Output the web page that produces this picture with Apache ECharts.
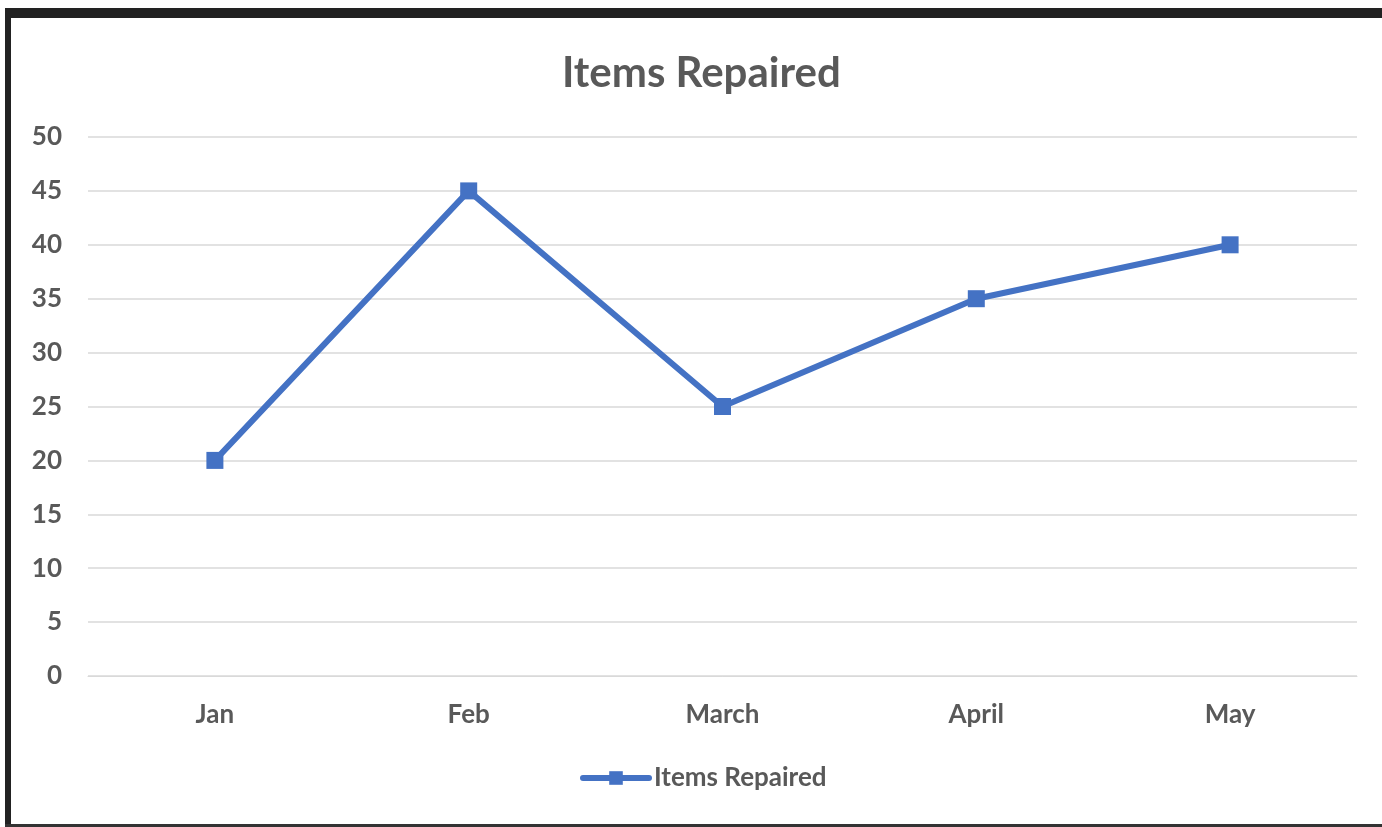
<!DOCTYPE html>
<html lang="en">
<head>
    <meta charset="UTF-8">
    <title>Items Repaired</title>
    <script src="https://cdn.jsdelivr.net/npm/echarts@6.0.0/dist/echarts.min.js"></script>
    <style>
        html, body { margin: 0; padding: 0; background: #fff; }
        #wrap { position: relative; width: 1382px; height: 827px; overflow: hidden; }
        #chart { position: absolute; left: 0; top: 0; width: 1382px; height: 827px; }
        .frame-top { position: absolute; left: 5px; top: 8px; width: 1377px; height: 10px; background: #222; }
        .frame-left { position: absolute; left: 5px; top: 8px; width: 6px; height: 819px; background: #222; }
        .frame-bottom { position: absolute; left: 5px; top: 824px; width: 1377px; height: 3px; background: #333; }
    </style>
</head>
<body>
    <div id="wrap">
        <div id="chart"></div>
        <div class="frame-top"></div>
        <div class="frame-left"></div>
        <div class="frame-bottom"></div>
    </div>

    <script>
        // data
        const months = ['Jan', 'Feb', 'March', 'April', 'May'];
        const itemsRepaired = [20, 45, 25, 35, 40];

        const chart = echarts.init(document.getElementById('chart'));
        const font = 'Lato, "Open Sans", sans-serif';

        chart.setOption({
            animation: false,
            title: {
                text: 'Items Repaired',
                left: 557,
                top: 47,
                textStyle: { fontFamily: font, fontSize: 42, fontWeight: 'bold', color: '#595959' }
            },
            legend: {
                bottom: 31,
                left: 575,
                itemWidth: 66,
                itemHeight: 17,
                itemGap: 4,
                lineStyle: { width: 6, cap: 'round' },
                textStyle: { fontFamily: font, fontSize: 26, fontWeight: 'bold', color: '#595959' },
                data: ['Items Repaired']
            },
            grid: { left: 88, right: 25, top: 137, bottom: 151 },
            xAxis: {
                type: 'category',
                data: months,
                boundaryGap: true,
                axisLine: { lineStyle: { color: '#d9d9d9', width: 1 } },
                axisTick: { show: false },
                axisLabel: { margin: 26, fontFamily: font, fontSize: 26, fontWeight: 'bold', color: '#595959' }
            },
            yAxis: {
                type: 'value',
                min: 0,
                max: 50,
                interval: 5,
                axisLine: { show: false },
                axisTick: { show: false },
                splitLine: { lineStyle: { color: '#d9d9d9', width: 1.5 } },
                axisLabel: { margin: 26, fontFamily: font, fontSize: 26, fontWeight: 'bold', color: '#595959' }
            },
            series: [{
                name: 'Items Repaired',
                type: 'line',
                data: itemsRepaired,
                symbol: 'rect',
                symbolSize: 17,
                lineStyle: { color: '#4472C4', width: 6 },
                itemStyle: { color: '#4472C4' }
            }]
        });
    </script>
</body>
</html>
